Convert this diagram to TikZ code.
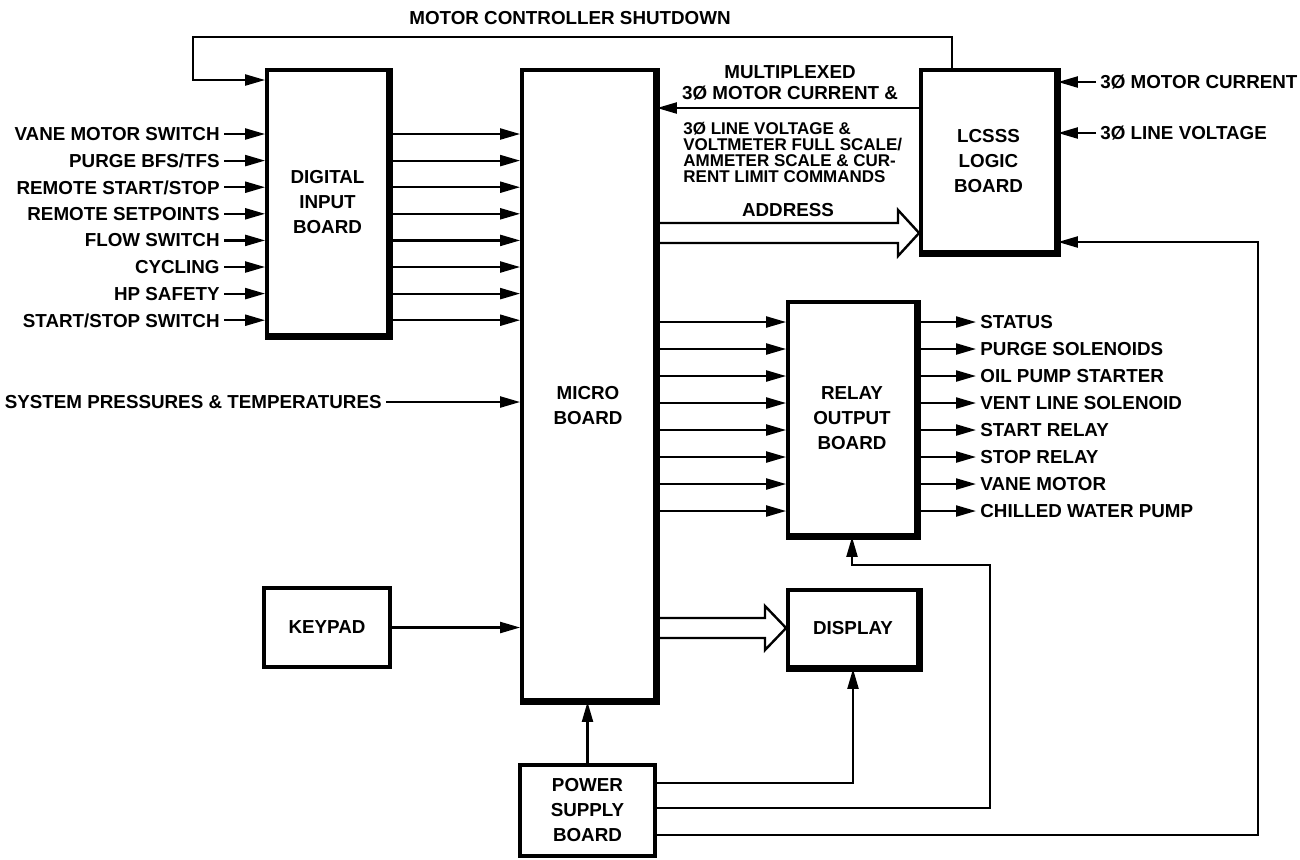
\documentclass[tikz,border=0pt]{standalone}
\usepackage{fontspec}
\setmainfont{Liberation Sans}
\usetikzlibrary{arrows.meta,fit}

\begin{document}
\begin{tikzpicture}[
  x=0.5pt, y=-0.5pt,
  box/.style={draw, line width=1.9pt, inner sep=0pt},
  boxtext/.style={align=center, inner sep=0pt, font=\bfseries\fontsize{9.4}{12.5}\selectfont},
  lab/.style={label={[boxtext]center:#1}},
  lbl/.style={inner sep=2pt, text depth=0pt, font=\bfseries\fontsize{9.4}{11}\selectfont},
  mlbl/.style={inner sep=2pt, font=\bfseries\fontsize{9.4}{10.5}\selectfont},
  a/.style={-{Triangle[length=10pt,width=5.5pt]}, line width=1.1pt},
  wide/.style={line width=1.2pt}
]
  \useasboundingbox (0,0) rectangle (1300,859);

  % boards
  \node[box, fit={(267,70) (388,335)}, lab={DIGITAL\\ INPUT\\ BOARD}] (dib) {};
  \node[box, fit={(522,70) (655,700)}] (micro) {};
  \node[boxtext] (microtxt) at (588,406) {MICRO\\ BOARD};
  \node[box, fit={(921,70) (1056,252)}, lab={LCSSS\\ LOGIC\\ BOARD}] (lcsss) {};
  \node[box, fit={(788,302) (916,535)}, lab={RELAY\\ OUTPUT\\ BOARD}] (relay) {};
  \node[box, fit={(264,588) (390,667)}, lab={KEYPAD}] (keypad) {};
  \node[box, fit={(788,590) (918,667)}, lab={DISPLAY}] (disp) {};
  \node[box, fit={(520,765) (655,856)}, lab={POWER\\ SUPPLY\\ BOARD}] (ps) {};

  % heavy right and bottom edges
  \foreach \b in {dib,micro,lcsss,relay,disp}
    \draw[line width=3pt] (\b.north east) -- (\b.south east) -- (\b.south west);

  % digital inputs
  \foreach \t [count=\i from 0] in {VANE MOTOR SWITCH, PURGE BFS/TFS, REMOTE START/STOP, REMOTE SETPOINTS, FLOW SWITCH, CYCLING, HP SAFETY, START/STOP SWITCH} {
    \node[lbl, anchor=east] (in\i) at (224,134+26.6*\i) {\t};
    \draw[a] (in\i.east) -- (dib.west |- in\i.east);
    \draw[a] (dib.east |- in\i.east) -- (micro.west |- in\i.east);
  }

  \node[lbl, anchor=east] (sys) at (386,402) {SYSTEM PRESSURES \& TEMPERATURES};
  \draw[a] (sys.east) -- (micro.west |- sys.east);
  \draw[a] (keypad.east) -- (micro.west |- keypad.east);

  % relay board
  \foreach \t [count=\i from 0] in {STATUS, PURGE SOLENOIDS, OIL PUMP STARTER, VENT LINE SOLENOID, START RELAY, STOP RELAY, VANE MOTOR, CHILLED WATER PUMP} {
    \node[lbl, anchor=west] (out\i) at (976,322+27*\i) {\t};
    \draw[a] (micro.east |- out\i.west) -- (relay.west |- out\i.west);
    \draw[a] (relay.east |- out\i.west) -- (out\i.west);
  }

  % lcsss board
  \node[lbl, anchor=west] (mcur) at (1096,82) {3Ø MOTOR CURRENT};
  \node[lbl, anchor=west] (lvolt) at (1096,133) {3Ø LINE VOLTAGE};
  \draw[a] (mcur.west) -- (lcsss.east |- mcur.west);
  \draw[a] (lvolt.west) -- (lcsss.east |- lvolt.west);

  \coordinate (mux) at (lcsss.west |- 0,108);
  \draw[a] (mux) -- (micro.east |- mux);
  \node[mlbl, align=center, anchor=south] (muxtop) at (790,105) {MULTIPLEXED\\ 3Ø MOTOR CURRENT \&};
  \node[mlbl, align=left, anchor=north west, font=\bfseries\fontsize{8.5}{8}\selectfont] (muxbot) at (679,118)
    {3Ø LINE VOLTAGE \&\\ VOLTMETER FULL SCALE/\\ AMMETER SCALE \& CUR-\\ RENT LIMIT COMMANDS};

  \node[lbl] (addr) at (788,210) {ADDRESS};
  \draw[wide] (micro.east |- 0,223) -- (898,223) -- (898,210) -- (lcsss.west |- 0,233)
    -- (898,256) -- (898,243) -- (micro.east |- 0,243);
  \draw[wide] (micro.east |- 0,618) -- (765,618) -- (765,606) -- (disp.west |- 0,628)
    -- (765,650) -- (765,638) -- (micro.east |- 0,638);

  % shutdown loop
  \node[lbl] (sdown) at (570,18) {MOTOR CONTROLLER SHUTDOWN};
  \draw[a] (lcsss.north -| 952,0) |- (193,37) |- (dib.west |- 0,80);

  % power feeds
  \draw[a] (ps.north) -- (micro.south -| ps.north);
  \draw[a] (ps.east |- 0,783) -| (disp.south);
  \draw[a] (ps.east |- 0,808) -| (990,565) -| (relay.south);
  \draw[a] (ps.east |- 0,835) -| (1258,242) -- (lcsss.east |- 0,242);
\end{tikzpicture}
\end{document}
